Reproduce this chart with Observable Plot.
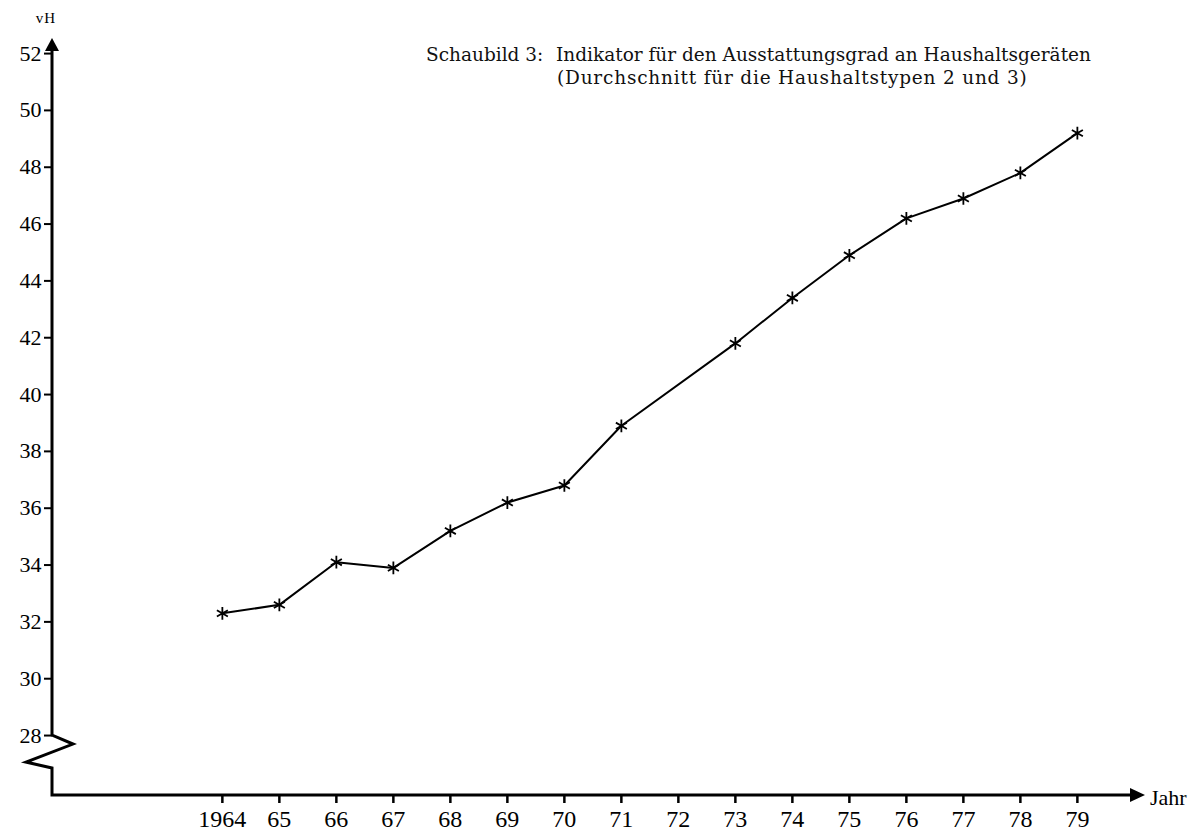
<!DOCTYPE html>
<html>
<head>
<meta charset="utf-8">
<script src="https://cdn.jsdelivr.net/npm/d3@7"></script>
<script src="https://cdn.jsdelivr.net/npm/@observablehq/plot@0.6"></script>
<style>
  html, body { margin: 0; padding: 0; background: #fff; }
  #wrap { position: relative; width: 1196px; height: 835px; font-family: "DejaVu Serif", "Liberation Serif", serif; color: #111; }
  .t { position: absolute; font-size: 18.5px; white-space: nowrap; line-height: 1; }
</style>
</head>
<body>
<div id="wrap">
  <div class="t" style="left:426px; top:46px;">Schaubild 3:</div>
  <div class="t" style="left:556px; top:46px;">Indikator für den Ausstattungsgrad an Haushaltsgeräten</div>
  <div class="t" style="left:557px; top:69px; letter-spacing:0.8px;">(Durchschnitt für die Haushaltstypen 2 und 3)</div>
</div>
<script>
// Data (1972 has no marker; the line runs straight from 71 to 73)
const years  = [1964, 1965, 1966, 1967, 1968, 1969, 1970, 1971, 1973, 1974, 1975, 1976, 1977, 1978, 1979];
const values = [32.3, 32.6, 34.1, 33.9, 35.2, 36.2, 36.8, 38.9, 41.8, 43.4, 44.9, 46.2, 46.9, 47.8, 49.2];
const xTicks = [1964, 1965, 1966, 1967, 1968, 1969, 1970, 1971, 1972, 1973, 1974, 1975, 1976, 1977, 1978, 1979];
const yTicks = [28, 30, 32, 34, 36, 38, 40, 42, 44, 46, 48, 50, 52];
const yUnit = "vH";
const xUnit = "Jahr";

const data = years.map((y, i) => ({year: y, value: values[i]}));

function axesDecor(index, scales, values, dims) {
  const g = d3.create("svg:g");
  const x0 = dims.marginLeft;
  const yBot = dims.height - dims.marginBottom;
  const yTop = dims.marginTop;
  const xEnd = dims.width - dims.marginRight;
  const y28 = scales.y(28);
  // y axis with break (zigzag)
  g.append("path")
    .attr("fill", "none").attr("stroke", "#000").attr("stroke-width", 3)
    .attr("stroke-linejoin", "miter")
    .attr("d", `M${x0},${yTop + 8}L${x0},${y28}L${x0 + 21},${y28 + 9}L${x0 - 26},${y28 + 27}L${x0},${y28 + 33}L${x0},${yBot}L${xEnd - 12},${yBot}`);
  // arrow heads
  g.append("path").attr("fill", "#000")
    .attr("d", `M${x0},${yTop - 2}L${x0 - 7},${yTop + 11}L${x0 + 7},${yTop + 11}Z`);
  g.append("path").attr("fill", "#000")
    .attr("d", `M${xEnd + 2},${yBot}L${xEnd - 13},${yBot - 7}L${xEnd - 13},${yBot + 7}Z`);
  // unit labels
  g.append("text").attr("x", x0 - 6).attr("y", yTop - 17)
    .attr("text-anchor", "middle").attr("font-size", 15).attr("letter-spacing", 1)
    .attr("font-family", "Liberation Serif, serif").text(yUnit);
  g.append("text").attr("x", xEnd + 7).attr("y", yBot + 10)
    .attr("text-anchor", "start")
    .attr("font-size", 22).attr("font-family", "Liberation Serif, serif").text(xUnit);
  return g.node();
}

const chart = Plot.plot({
  width: 1196,
  height: 835,
  marginLeft: 52,
  marginRight: 53,
  marginTop: 40,
  marginBottom: 40,
  style: {fontFamily: "Liberation Serif, DejaVu Serif, serif", background: "transparent", color: "#000", overflow: "visible"},
  x: {domain: [1961.02, 1980.16], label: null},
  y: {domain: [25.89, 52.46], label: null},
  marks: [
    Plot.axisY({ticks: yTicks, tickSize: 8, tickPadding: 3, fontSize: 22, strokeWidth: 2, label: null}),
    Plot.axisX({ticks: xTicks, tickSize: 8, tickPadding: 6, fontSize: 24, strokeWidth: 2.5, label: null,
      tickFormat: d => d === 1964 ? "1964" : String(d).slice(2)}),
    axesDecor,
    Plot.line(data, {x: "year", y: "value", stroke: "#000", strokeWidth: 2}),
    Plot.dot(data, {x: "year", y: "value", symbol: "asterisk", r: 6, stroke: "#000", strokeWidth: 1.8})
  ]
});
chart.style.position = "absolute";
chart.style.left = "0";
chart.style.top = "0";
document.getElementById("wrap").prepend(chart);
</script>
</body>
</html>
